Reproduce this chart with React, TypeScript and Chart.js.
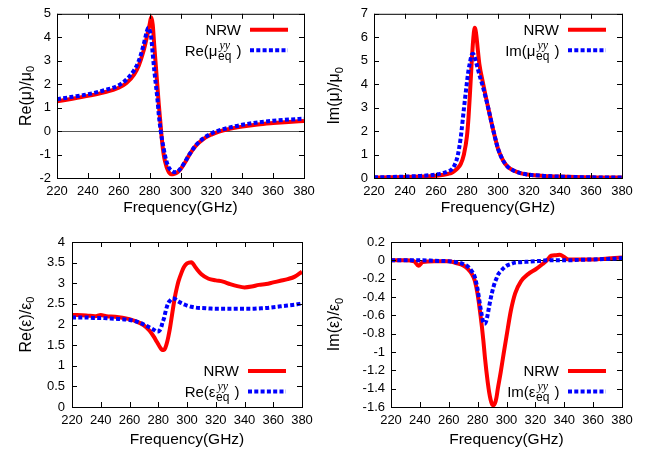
import React, { useEffect, useRef } from "react";
import { Chart, registerables } from "chart.js";

Chart.register(...registerables);

const FONT = "'Liberation Sans', Arial, Helvetica, sans-serif";
const SERIF = "'Liberation Serif', 'Times New Roman', serif";
Chart.defaults.font.family = FONT;
Chart.defaults.color = "#000";

const freqTicks = [220, 240, 260, 280, 300, 320, 340, 360, 380];

// ---- Panel (a): Re(mu)/mu0 ----
const reMuFreq = [220, 230, 240, 250, 260, 265, 270, 273, 276, 278, 279, 280, 281, 282, 283, 284, 285, 286, 287, 288, 289, 290, 292, 294, 296, 298, 300, 303, 306, 310, 315, 320, 325, 330, 340, 350, 360, 370, 380];
const reMuNRW = [1.27, 1.38, 1.5, 1.64, 1.85, 2.05, 2.42, 2.8, 3.4, 3.95, 4.25, 4.55, 4.85, 4.55, 3.65, 2.8, 1.95, 1.1, 0.35, -0.4, -0.95, -1.3, -1.7, -1.84, -1.82, -1.76, -1.63, -1.33, -0.98, -0.62, -0.33, -0.15, -0.02, 0.07, 0.19, 0.28, 0.34, 0.39, 0.43];
const reMuEq = [1.36, 1.46, 1.57, 1.73, 1.95, 2.2, 2.6, 3.0, 3.65, 4.2, 4.4, 4.3, 4.0, 3.3, 2.6, 2.0, 1.4, 0.65, 0.1, -0.35, -0.7, -1.05, -1.5, -1.68, -1.75, -1.73, -1.6, -1.3, -0.97, -0.6, -0.3, -0.1, 0.03, 0.12, 0.27, 0.37, 0.44, 0.49, 0.53];
const reMuTicks = [-2, -1, 0, 1, 2, 3, 4, 5];

// ---- Panel (b): Im(mu)/mu0 ----
const imMuFreq = [220, 230, 240, 250, 260, 265, 268, 270, 272, 274, 276, 278, 280, 281, 282, 283, 284, 285, 286, 287, 288, 290, 292, 294, 296, 298, 300, 303, 306, 310, 315, 320, 330, 340, 350, 360, 370, 380];
const imMuNRW = [0.02, 0.03, 0.04, 0.06, 0.1, 0.14, 0.18, 0.22, 0.3, 0.42, 0.6, 1.0, 1.8, 2.6, 3.7, 4.9, 5.9, 6.4, 6.1, 5.45, 4.85, 4.15, 3.5, 2.9, 2.3, 1.75, 1.25, 0.78, 0.5, 0.32, 0.2, 0.14, 0.09, 0.06, 0.04, 0.03, 0.02, 0.02];
const imMuEq = [0.03, 0.04, 0.06, 0.09, 0.15, 0.22, 0.29, 0.36, 0.55, 0.95, 1.75, 2.95, 4.1, 4.6, 4.95, 5.25, 5.3, 5.15, 4.9, 4.65, 4.4, 3.95, 3.45, 2.9, 2.3, 1.75, 1.25, 0.78, 0.5, 0.32, 0.2, 0.14, 0.09, 0.06, 0.04, 0.03, 0.02, 0.02];
const imMuTicks = [0, 1, 2, 3, 4, 5, 6, 7];

// ---- Panel (c): Re(eps)/eps0 ----
const reEpsFreq = [220, 230, 236, 240, 244, 250, 260, 265, 270, 274, 277, 279, 280, 281, 282, 283, 284, 285, 286, 287, 288, 289, 290, 291, 292, 293, 294, 296, 298, 300, 303, 306, 310, 315, 320, 325, 330, 335, 340, 345, 350, 355, 360, 365, 370, 375, 380];
const reEpsNRW = [2.23, 2.22, 2.2, 2.23, 2.2, 2.19, 2.13, 2.07, 1.98, 1.85, 1.7, 1.58, 1.52, 1.46, 1.41, 1.38, 1.38, 1.44, 1.55, 1.7, 1.88, 2.1, 2.33, 2.55, 2.74, 2.9, 3.04, 3.24, 3.4, 3.48, 3.51, 3.38, 3.22, 3.11, 3.07, 3.04, 2.98, 2.93, 2.9, 2.92, 2.96, 2.98, 3.02, 3.06, 3.1, 3.16, 3.28];
const reEpsEq = [2.17, 2.17, 2.16, 2.16, 2.15, 2.14, 2.11, 2.07, 2.0, 1.93, 1.87, 1.83, 1.83, 1.86, 1.93, 2.05, 2.15, 2.3, 2.43, 2.52, 2.57, 2.61, 2.63, 2.63, 2.61, 2.58, 2.56, 2.52, 2.49, 2.46, 2.43, 2.41, 2.4, 2.39, 2.38, 2.38, 2.38, 2.38, 2.38, 2.38, 2.39, 2.4, 2.42, 2.44, 2.46, 2.48, 2.51];
const reEpsTicks = [0, 0.5, 1, 1.5, 2, 2.5, 3, 3.5, 4];

// ---- Panel (d): Im(eps)/eps0 ----
const imEpsFreq = [220, 230, 236, 239, 242, 250, 260, 265, 270, 273, 276, 278, 280, 282, 283, 284, 285, 286, 287, 288, 289, 290, 291, 292, 293, 294, 296, 298, 300, 303, 306, 310, 315, 320, 325, 328, 331, 334, 337, 340, 343, 350, 360, 370, 380];
const imEpsNRW = [0.0, 0.0, -0.01, -0.06, -0.02, -0.01, -0.01, -0.03, -0.055, -0.09, -0.15, -0.22, -0.37, -0.6, -0.73, -0.88, -1.05, -1.2, -1.33, -1.44, -1.52, -1.57, -1.58, -1.56, -1.5, -1.4, -1.22, -1.02, -0.83, -0.55, -0.36, -0.23, -0.15, -0.1, -0.04, 0.0, 0.05, 0.055, 0.06, 0.035, 0.01, 0.01, 0.01, 0.02, 0.03];
const imEpsEq = [0.0, 0.0, 0.0, 0.0, 0.0, -0.005, -0.01, -0.02, -0.04, -0.065, -0.12, -0.18, -0.32, -0.52, -0.61, -0.68, -0.69, -0.66, -0.59, -0.5, -0.42, -0.35, -0.29, -0.24, -0.2, -0.16, -0.12, -0.085, -0.06, -0.04, -0.025, -0.02, -0.015, -0.01, -0.005, 0.0, 0.0, 0.0, 0.0, 0.0, 0.0, 0.005, 0.01, 0.015, 0.025];
const imEpsTicks = [-1.6, -1.4, -1.2, -1, -0.8, -0.6, -0.4, -0.2, 0, 0.2];

type Spec = {
  key: string;
  left: number;
  top: number;
  width: number;
  height: number;
  yAxisWidth: number;
  padTop: number;
  padRight: number;
  xAxisHeight: number;
  xTitlePad: number;
  yLabelPad: number;
  yTitleX: number;
  freq: number[];
  nrw: number[];
  eq: number[];
  yTicks: number[];
  yTitle: string;
  legendPrefix: string;
  legendPos: "top" | "bottom";
  zeroLine: string | null;
};

const specs: Spec[] = [
  { key: "a", left: 0, top: 0, width: 325, height: 224, yAxisWidth: 57, padTop: 13, padRight: 21, xAxisHeight: 46, xTitlePad: 7, yLabelPad: 6, yTitleX: 25, freq: reMuFreq, nrw: reMuNRW, eq: reMuEq, yTicks: reMuTicks, yTitle: "Re(\u03bc)/\u03bc", legendPrefix: "Re(\u03bc", legendPos: "top", zeroLine: "#555555" },
  { key: "b", left: 325, top: 0, width: 326, height: 224, yAxisWidth: 49, padTop: 13, padRight: 29, xAxisHeight: 46, xTitlePad: 7, yLabelPad: 6, yTitleX: 8.5, freq: imMuFreq, nrw: imMuNRW, eq: imMuEq, yTicks: imMuTicks, yTitle: "Im(\u03bc)/\u03bc", legendPrefix: "Im(\u03bc", legendPos: "top", zeroLine: null },
  { key: "c", left: 0, top: 224, width: 325, height: 225, yAxisWidth: 72, padTop: 18, padRight: 23, xAxisHeight: 42, xTitlePad: 0, yLabelPad: 7, yTitleX: 25, freq: reEpsFreq, nrw: reEpsNRW, eq: reEpsEq, yTicks: reEpsTicks, yTitle: "Re(\u03b5)/\u03b5", legendPrefix: "Re(\u03b5", legendPos: "bottom", zeroLine: null },
  { key: "d", left: 325, top: 224, width: 326, height: 225, yAxisWidth: 66, padTop: 18, padRight: 29, xAxisHeight: 42, xTitlePad: 0, yLabelPad: 6, yTitleX: 8.5, freq: imEpsFreq, nrw: imEpsNRW, eq: imEpsEq, yTicks: imEpsTicks, yTitle: "Im(\u03b5)/\u03b5", legendPrefix: "Im(\u03b5", legendPos: "bottom", zeroLine: "#000000" },
];

const RED = "#ff0000";
const BLUE = "#0000ff";
const DASH = [4, 2.3];

function makePlugin(spec: Spec) {
  return {
    id: "gnuframe",
    beforeDatasetsDraw(chart: any) {
      const { ctx, chartArea: a, scales } = chart;
      if (spec.zeroLine) {
        const y = Math.round(scales.y.getPixelForValue(0)) + 0.5;
        ctx.save();
        ctx.strokeStyle = spec.zeroLine;
        ctx.lineWidth = 1;
        ctx.beginPath();
        ctx.moveTo(a.left, y);
        ctx.lineTo(a.right, y);
        ctx.stroke();
        ctx.restore();
      }
    },
    afterDatasetsDraw(chart: any) {
      const { ctx, chartArea: a, scales } = chart;
      ctx.save();
      ctx.strokeStyle = "#000";
      ctx.lineWidth = 1;
      ctx.setLineDash([]);
      ctx.strokeRect(a.left + 0.5, a.top + 0.5, a.right - a.left, a.bottom - a.top);
      const TL = 5;
      ctx.beginPath();
      for (const v of freqTicks) {
        const x = Math.round(scales.x.getPixelForValue(v)) + 0.5;
        ctx.moveTo(x, a.bottom);
        ctx.lineTo(x, a.bottom - TL);
        ctx.moveTo(x, a.top);
        ctx.lineTo(x, a.top + TL);
      }
      for (const v of spec.yTicks) {
        const y = Math.round(scales.y.getPixelForValue(v)) + 0.5;
        ctx.moveTo(a.left, y);
        ctx.lineTo(a.left + TL, y);
        ctx.moveTo(a.right, y);
        ctx.lineTo(a.right - TL, y);
      }
      ctx.stroke();

      // legend
      const sRight = a.right - 16;
      const sLeft = sRight - 38;
      const tRight = sLeft - 9;
      const row1 = spec.legendPos === "top" ? a.top + 16 : a.bottom - 36;
      const row2 = row1 + 20.5;
      ctx.lineWidth = 4;
      ctx.lineCap = "butt";
      ctx.strokeStyle = RED;
      ctx.beginPath();
      ctx.moveTo(sLeft, row1);
      ctx.lineTo(sRight, row1);
      ctx.stroke();
      ctx.strokeStyle = BLUE;
      ctx.setLineDash(DASH);
      ctx.beginPath();
      ctx.moveTo(sLeft, row2);
      ctx.lineTo(sRight, row2);
      ctx.stroke();
      ctx.setLineDash([]);

      ctx.fillStyle = "#000";
      ctx.textBaseline = "alphabetic";
      const main = `15px ${FONT}`;
      const small = `12px ${FONT}`;
      const sup = `italic 12px ${SERIF}`;
      ctx.font = main;
      ctx.textAlign = "right";
      ctx.fillText("NRW", tRight, row1 + 5.4);
      ctx.textAlign = "left";
      const wPre = ctx.measureText(spec.legendPrefix).width;
      const wClose = ctx.measureText(" )").width;
      ctx.font = small;
      const wSub = ctx.measureText("eq").width;
      ctx.font = sup;
      const wSup = ctx.measureText("yy").width;
      const wMid = Math.max(wSub, wSup);
      let x = tRight - (wPre + wMid + wClose + 1);
      const base = row2 + 5.4;
      ctx.font = main;
      ctx.fillText(spec.legendPrefix, x, base);
      x += wPre + 0.5;
      ctx.font = sup;
      ctx.fillText("yy", x + 1.5, base - 7);
      ctx.font = small;
      ctx.fillText("eq", x, base + 4);
      x += wMid + 1;
      ctx.font = main;
      ctx.fillText(" )", x, base);
      ctx.restore();
    },
    afterDraw(chart: any) {
      const { ctx, chartArea: a } = chart;
      ctx.save();
      const cy = (a.top + a.bottom) / 2;
      ctx.translate(spec.yTitleX, cy);
      ctx.rotate(-Math.PI / 2);
      const main = `16px ${FONT}`;
      const small = `11px ${FONT}`;
      ctx.font = main;
      const wMain = ctx.measureText(spec.yTitle).width;
      ctx.font = small;
      const wSub = ctx.measureText("0").width;
      const start = -(wMain + wSub) / 2;
      ctx.fillStyle = "#000";
      ctx.textAlign = "left";
      ctx.textBaseline = "alphabetic";
      ctx.font = main;
      ctx.fillText(spec.yTitle, start, 5.7);
      ctx.font = small;
      ctx.fillText("0", start + wMain, 9);
      ctx.restore();
    },
  };
}

function fmt(v: number) {
  return String(Math.round(v * 100) / 100);
}

function Panel({ spec }: { spec: Spec }) {
  const ref = useRef<HTMLCanvasElement | null>(null);
  useEffect(() => {
    if (!ref.current) return;
    const yMin = Math.min(...spec.yTicks);
    const yMax = Math.max(...spec.yTicks);
    const chart = new Chart(ref.current, {
      type: "line",
      data: {
        datasets: [
          {
            label: "NRW",
            data: spec.freq.map((f, i) => ({ x: f, y: spec.nrw[i] })),
            borderColor: RED,
            backgroundColor: RED,
            borderWidth: 4,
            pointRadius: 0,
            borderJoinStyle: "round",
            cubicInterpolationMode: "monotone",
            order: 1,
          },
          {
            label: "eq",
            data: spec.freq.map((f, i) => ({ x: f, y: spec.eq[i] })),
            borderColor: BLUE,
            backgroundColor: BLUE,
            borderWidth: 4,
            borderDash: DASH,
            pointRadius: 0,
            cubicInterpolationMode: "monotone",
            order: 0,
          },
        ],
      },
      options: {
        responsive: false,
        maintainAspectRatio: false,
        animation: false,
        events: [],
        layout: { padding: { top: spec.padTop, right: spec.padRight, left: 0, bottom: 0 } },
        plugins: { legend: { display: false }, tooltip: { enabled: false }, title: { display: false } },
        scales: {
          x: {
            type: "linear",
            min: 220,
            max: 380,
            grid: { display: false, drawTicks: false },
            border: { display: false },
            ticks: { autoSkip: false, maxRotation: 0, minRotation: 0, padding: 6, color: "#000", font: { size: 13, family: FONT }, callback: (v: any) => fmt(Number(v)) },
            title: { display: true, text: "Frequency(GHz)", color: "#000", font: { size: 15.5, family: FONT }, padding: { top: 0, bottom: spec.xTitlePad } },
            afterBuildTicks: (s: any) => {
              s.ticks = freqTicks.map((v) => ({ value: v }));
            },
            afterFit: (s: any) => {
              s.height = spec.xAxisHeight;
            },
          },
          y: {
            type: "linear",
            min: yMin,
            max: yMax,
            grid: { display: false, drawTicks: false },
            border: { display: false },
            ticks: { autoSkip: false, padding: spec.yLabelPad, color: "#000", font: { size: 13, family: FONT }, callback: (v: any) => fmt(Number(v)) },
            afterBuildTicks: (s: any) => {
              s.ticks = spec.yTicks.map((v) => ({ value: v }));
            },
            afterFit: (s: any) => {
              s.width = spec.yAxisWidth;
            },
          },
        },
      } as any,
      plugins: [makePlugin(spec)],
    } as any);
    return () => chart.destroy();
  }, [spec]);
  return (
    <canvas
      ref={ref}
      width={spec.width}
      height={spec.height}
      style={{ position: "absolute", left: spec.left, top: spec.top, width: spec.width, height: spec.height }}
    />
  );
}

export default function App() {
  return (
    <div style={{ position: "fixed", left: 0, top: 0, width: 651, height: 449, background: "#fff", overflow: "hidden" }}>
      {specs.map((s) => (
        <Panel key={s.key} spec={s} />
      ))}
    </div>
  );
}
